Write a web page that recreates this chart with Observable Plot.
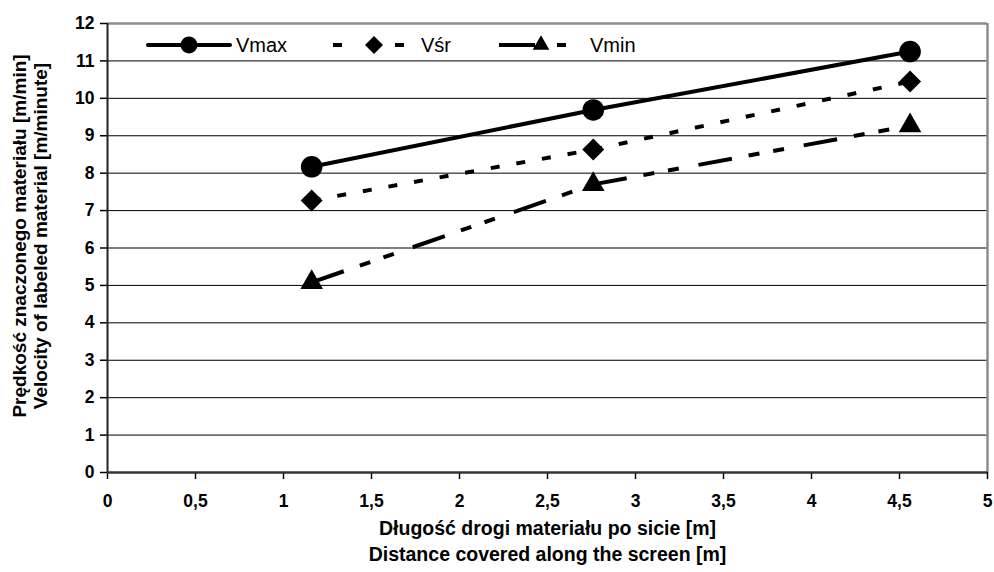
<!DOCTYPE html>
<html>
<head>
<meta charset="utf-8">
<script src="https://cdn.jsdelivr.net/npm/d3@7"></script>
<script src="https://cdn.jsdelivr.net/npm/@observablehq/plot@0.6"></script>
<style>
  html, body { margin: 0; padding: 0; background: #fff; }
  #chart { width: 994px; height: 572px; }
</style>
</head>
<body>
<div id="chart"></div>
<script>
// ---- data ----
const distances = [1.16, 2.76, 4.56];
const vmax = [8.17, 9.69, 11.25];
const vsr  = [7.27, 8.63, 10.45];
const vmin = [5.08, 7.70, 9.27];
const seriesNames = ["Vmax", "Vśr", "Vmin"];
const xTicks = [0, 0.5, 1, 1.5, 2, 2.5, 3, 3.5, 4, 4.5, 5];
const yTicks = [0, 1, 2, 3, 4, 5, 6, 7, 8, 9, 10, 11, 12];
const xTitle = ["Długość drogi materiału po sicie [m]", "Distance covered along the screen [m]"];
const yTitle = ["Prędkość znaczonego materiału [m/min]", "Velocity of labeled material [m/minute]"];

// ---- styles ----
const FONT = "'Liberation Sans', Arial, sans-serif";
const styles = {
  Vmax: {dash: null, legendDash: null, symbol: "circle", r: 10.8, lr: 8.5},
  "Vśr": {dash: "9,17", legendDash: "9,53,9", symbol: "diamond2", r: 9.9, lr: 8.1},
  Vmin: {dash: "34,17,11,14,11,20", legendDash: "36,22,9", symbol: "triangle", r: 8.4, lr: 6.2}
};

const seriesValues = [vmax, vsr, vmin];
const points = [];
const segments = [];
seriesNames.forEach((name, s) => {
  const vals = seriesValues[s];
  distances.forEach((x, i) => {
    points.push({series: name, x, y: vals[i]});
    if (i < distances.length - 1) {
      segments.push({series: name, x1: x, y1: vals[i], x2: distances[i + 1], y2: vals[i + 1]});
    }
  });
});

const fmt = d => String(d).replace(".", ",");

const marks = [
  Plot.ruleY(yTicks.filter(d => d > 0 && d < 12), {stroke: "#000", strokeWidth: 1}),
  Plot.ruleY([12], {stroke: "#8c8c8c", strokeWidth: 2.5}),
  Plot.ruleX([5], {stroke: "#8c8c8c", strokeWidth: 2.5}),
  Plot.axisY({ticks: yTicks, tickSize: 7, tickPadding: 6, tickFormat: fmt, label: null, stroke: "#000", strokeWidth: 1.5}),
  Plot.axisX({ticks: xTicks, tickSize: 7, tickPadding: 15, tickFormat: fmt, label: null, stroke: "#000", strokeWidth: 1.5}),
  Plot.ruleX([0], {stroke: "#222", strokeWidth: 2}),
  Plot.ruleY([0], {stroke: "#333", strokeWidth: 2.5}),
];

seriesNames.forEach(name => {
  const st = styles[name];
  marks.push(Plot.link(segments.filter(d => d.series === name), {
    x1: "x1", y1: "y1", x2: "x2", y2: "y2",
    stroke: "#000", strokeWidth: 4, strokeDasharray: st.dash, strokeLinecap: "butt"
  }));
});
seriesNames.forEach(name => {
  const st = styles[name];
  marks.push(Plot.dot(points.filter(d => d.series === name), {
    x: "x", y: "y", symbol: st.symbol, r: st.r, fill: "#000", stroke: "none"
  }));
});

const titleStyle = {lineAnchor: "middle", textAnchor: "middle", fontSize: 19.5, fontWeight: "bold", fill: "#000"};
marks.push(Plot.text([xTitle[0]], {frameAnchor: "bottom", dy: 56, ...titleStyle}));
marks.push(Plot.text([xTitle[1]], {frameAnchor: "bottom", dy: 82, ...titleStyle}));
marks.push(Plot.text([yTitle[0]], {frameAnchor: "left", dx: -88, dy: -12, rotate: -90, ...titleStyle, fontSize: 19}));
marks.push(Plot.text([yTitle[1]], {frameAnchor: "left", dx: -67, dy: -12, rotate: -90, ...titleStyle, fontSize: 19}));

const chart = Plot.plot({
  width: 994,
  height: 572,
  marginLeft: 107,
  marginRight: 7,
  marginTop: 23,
  marginBottom: 100,
  style: {fontFamily: FONT, fontSize: "17.5px", fontWeight: "bold", color: "#000", background: "#fff"},
  x: {domain: [0, 5]},
  y: {domain: [0, 12]},
  marks
});

const svg = d3.select(chart);

// ---- legend inside the plot area ----
const lg = svg.append("g")
  .attr("font-family", FONT).attr("font-size", 20).attr("font-weight", "normal")
  .attr("text-anchor", "start");
const legendItems = [
  {name: "Vmax", x0: 148, x1: 230, mx: 189, tx: 236},
  {name: "Vśr", x0: 333, x1: 405, mx: 374, tx: 421},
  {name: "Vmin", x0: 499, x1: 566, mx: 541, tx: 590}
];
const ly = 45;
const symbolMap = {circle: d3.symbolCircle, diamond2: d3.symbolDiamond2, triangle: d3.symbolTriangle};
legendItems.forEach(it => {
  const st = styles[it.name];
  lg.append("line")
    .attr("x1", it.x0).attr("x2", it.x1).attr("y1", ly).attr("y2", ly)
    .attr("stroke", "#000").attr("stroke-width", 4)
    .attr("stroke-dasharray", st.legendDash)
    .attr("stroke-linecap", st.legendDash ? "butt" : "round");
  lg.append("path")
    .attr("d", d3.symbol(symbolMap[st.symbol], Math.PI * st.lr * st.lr)())
    .attr("transform", `translate(${it.mx},${ly})`)
    .attr("fill", "#000");
  lg.append("text")
    .attr("x", it.tx).attr("y", ly).attr("dy", "0.35em")
    .attr("fill", "#000")
    .text(it.name);
});

document.getElementById("chart").appendChild(chart);
</script>
</body>
</html>
